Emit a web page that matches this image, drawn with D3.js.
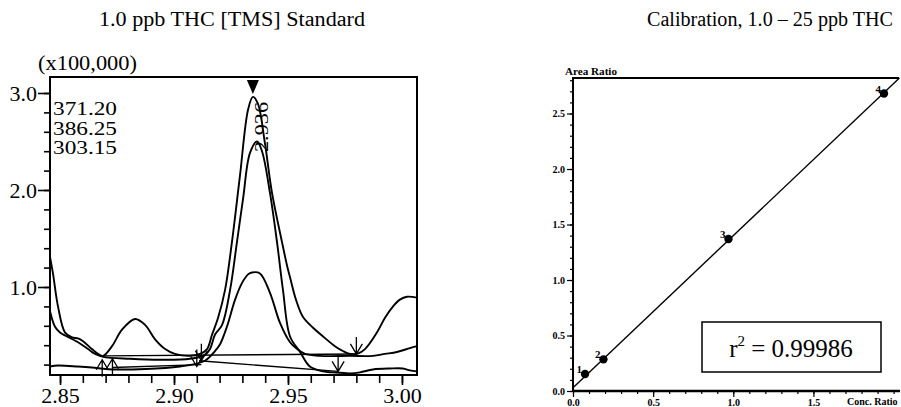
<!DOCTYPE html>
<html>
<head>
<meta charset="utf-8">
<script src="https://cdn.jsdelivr.net/npm/d3@7"></script>
<style>
  body { margin: 0; background: #fff; }
  svg { display: block; font-family: "Liberation Serif", "Times New Roman", serif; }
</style>
</head>
<body>
<div class="canvas"></div>
<script>
// ---- chromatogram data (retention time min, intensity x100,000) ----
const ionLabels = ['371.20', '386.25', '303.15'];

const ion371 = [
  [2.8456, 1.31], [2.8469, 1.14], [2.8491, 0.80], [2.8522, 0.53], [2.8553, 0.48], [2.8579, 0.47],
  [2.8601, 0.44], [2.8640, 0.36], [2.8667, 0.31], [2.8689, 0.29], [2.8728, 0.39], [2.8772, 0.56],
  [2.8829, 0.67], [2.8873, 0.61], [2.8917, 0.46], [2.8961, 0.36], [2.9004, 0.31], [2.9070, 0.29],
  [2.9114, 0.31], [2.9145, 0.36], [2.9167, 0.51], [2.9193, 0.68], [2.9224, 0.97], [2.9254, 1.46],
  [2.9289, 2.14], [2.9325, 2.83], [2.9346, 2.96], [2.9368, 2.89], [2.9399, 2.48], [2.9430, 1.97],
  [2.9474, 1.46], [2.9496, 1.22], [2.9509, 1.10], [2.9535, 0.87], [2.9566, 0.69], [2.9610, 0.58],
  [2.9654, 0.49], [2.9706, 0.39], [2.9741, 0.34], [2.9772, 0.31], [2.9803, 0.31], [2.9838, 0.36],
  [2.9890, 0.53], [2.9925, 0.68], [2.9961, 0.80], [2.9991, 0.87], [3.0022, 0.90], [3.0066, 0.89]
];

const ion386 = [
  [2.8456, 0.75], [2.8478, 0.59], [2.8500, 0.53], [2.8522, 0.50], [2.8579, 0.43], [2.8623, 0.36],
  [2.8654, 0.31], [2.8689, 0.28], [2.8807, 0.26], [2.8939, 0.25], [2.9070, 0.26], [2.9136, 0.30],
  [2.9158, 0.36], [2.9180, 0.51], [2.9211, 0.61], [2.9246, 0.97], [2.9276, 1.46], [2.9303, 1.91],
  [2.9333, 2.38], [2.9364, 2.50], [2.9386, 2.40], [2.9421, 1.97], [2.9452, 1.46], [2.9478, 0.97],
  [2.9509, 0.49], [2.9553, 0.33], [2.9596, 0.18], [2.9654, 0.13], [2.9697, 0.12], [2.9772, 0.11],
  [2.9816, 0.12], [2.9873, 0.15], [2.9947, 0.16], [3.0004, 0.16], [3.0035, 0.14], [3.0066, 0.13]
];

const ion303 = [
  [2.8456, 0.18], [2.8491, 0.19], [2.8579, 0.18], [2.8640, 0.17], [2.8728, 0.15], [2.9026, 0.18],
  [2.9136, 0.24], [2.9180, 0.34], [2.9202, 0.41], [2.9232, 0.59], [2.9268, 0.87], [2.9298, 1.04],
  [2.9325, 1.13], [2.9342, 1.15], [2.9377, 1.14], [2.9421, 0.94], [2.9465, 0.63], [2.9509, 0.43],
  [2.9540, 0.36], [2.9575, 0.31], [2.9641, 0.29], [2.9772, 0.29], [2.9873, 0.29], [2.9925, 0.31],
  [2.9978, 0.33], [3.0035, 0.37], [3.0066, 0.39]
];

// integration baselines and peak start/end arrows
const baselines = [
  [[2.8689, 0.29], [2.9803, 0.31]],
  [[2.9110, 0.24], [2.9720, 0.13]],
  [[2.8730, 0.17], [2.9120, 0.20]]
];
// [time, tip value, direction]
const arrows = [
  [2.8685, 0.25, 'up'], [2.8730, 0.26, 'up'],
  [2.9100, 0.18, 'down'], [2.9120, 0.24, 'down'],
  [2.9720, 0.13, 'down'], [2.9800, 0.31, 'down']
];
const peakTime = '2.936';
const apex = [2.9346, 2.96];

const yMajorL = [1.0, 2.0, 3.0];
const yMinorL = d3.range(2, 31, 2).map(d => d / 10);
const xMajorL = [2.85, 2.90, 2.95, 3.00];
const xMinorL = d3.range(285, 301).map(d => d / 100);

// ---- calibration data ----
const calLabels = ['1', '2', '3', '4'];
const concRatio = [0.075, 0.19, 0.97, 1.94];
const areaRatio = [0.153, 0.285, 1.37, 2.68];
const fitSlope = 1.37;
const fitIntercept = 0.03;
const r2 = '0.99986';

const yMajorR = [0.0, 0.5, 1.0, 1.5, 2.0, 2.5];
const yMinorR = d3.range(0, 29).map(d => d / 10);
const xMajorR = [0.0, 0.5, 1.0, 1.5];
const xMinorR = d3.range(0, 21).map(d => d / 10);

const svg = d3.select('.canvas')
  .append('svg')
  .attr('width', 901)
  .attr('height', 407);

svg.append('rect').attr('width', 901).attr('height', 407).attr('fill', '#fff');

// titles
svg.append('text')
  .attr('x', 99).attr('y', 26)
  .attr('textLength', 266)
  .attr('lengthAdjust', 'spacingAndGlyphs')
  .style('font-size', '20px')
  .text('1.0 ppb THC [TMS] Standard');

svg.append('text')
  .attr('x', 647).attr('y', 26)
  .attr('textLength', 246)
  .attr('lengthAdjust', 'spacingAndGlyphs')
  .style('font-size', '20px')
  .text('Calibration, 1.0 \u2013 25 ppb THC');

// ================= left: chromatogram =================
const xL = d3.scaleLinear().domain([2.8456, 3.0066]).range([50, 417]);
const yL = d3.scaleLinear().domain([0, 3]).range([384, 93]);

const left = svg.append('g');
const bigFont = g => g.attr('font-family', '"Liberation Serif", serif')
  .selectAll('text')
  .attr('font-size', 22)
  .style('font-family', '"Liberation Serif", serif');

// y axis ticks
left.append('g')
  .attr('transform', 'translate(50,0)')
  .call(d3.axisLeft(yL).tickValues(yMinorL).tickSize(6).tickFormat(''))
  .call(g => g.select('.domain').remove());
left.append('g')
  .attr('transform', 'translate(50,0)')
  .call(d3.axisLeft(yL).tickValues(yMajorL).tickSize(12).tickPadding(1).tickFormat(d3.format('.1f')))
  .call(g => g.select('.domain').remove())
  .call(bigFont);

// x axis ticks
left.append('g')
  .attr('transform', 'translate(0,375)')
  .call(d3.axisBottom(xL).tickValues(xMinorL).tickSize(8).tickFormat(''))
  .call(g => g.select('.domain').remove());
left.append('g')
  .attr('transform', 'translate(0,375)')
  .call(d3.axisBottom(xL).tickValues(xMajorL).tickSize(10).tickPadding(2).tickFormat(d3.format('.2f')))
  .call(g => g.select('.domain').remove())
  .call(bigFont);

left.selectAll('.tick line').attr('stroke-width', 1.6);

// frame
left.append('rect')
  .attr('x', 50).attr('y', 77)
  .attr('width', 367).attr('height', 298)
  .attr('fill', 'none')
  .attr('stroke', '#000')
  .attr('stroke-width', 2);

left.append('text')
  .attr('x', 38).attr('y', 70)
  .attr('textLength', 99)
  .attr('lengthAdjust', 'spacingAndGlyphs')
  .style('font-size', '21px')
  .text('(x100,000)');

// ion labels
left.selectAll('.ion')
  .data(ionLabels)
  .enter()
  .append('text')
  .attr('class', 'ion')
  .attr('x', 53)
  .attr('y', (d, i) => 115 + i * 19.5)
  .attr('textLength', 64)
  .attr('lengthAdjust', 'spacingAndGlyphs')
  .style('font-size', '19px')
  .text(d => d);

const line = d3.line()
  .x(d => xL(d[0]))
  .y(d => yL(d[1]))
  .curve(d3.curveCatmullRom.alpha(0.5));

const plot = left.append('g');

plot.selectAll('.base')
  .data(baselines)
  .enter()
  .append('path')
  .attr('d', d3.line().x(d => xL(d[0])).y(d => yL(d[1])))
  .attr('fill', 'none')
  .attr('stroke', '#000')
  .attr('stroke-width', 1.4);

plot.selectAll('.trace')
  .data([ion371, ion386, ion303])
  .enter()
  .append('path')
  .attr('d', line)
  .attr('fill', 'none')
  .attr('stroke', '#000')
  .attr('stroke-width', 1.9)
  .attr('stroke-linejoin', 'round');

// arrows at peak start / end
plot.selectAll('.arrow')
  .data(arrows)
  .enter()
  .append('path')
  .attr('d', d => {
    const x = xL(d[0]), y = yL(d[1]);
    const s = d[2] === 'down' ? -1 : 1;
    return `M${x},${y + s * 17}L${x},${y}M${x - 6},${y + s * 10}L${x},${y}L${x + 6},${y + s * 10}`;
  })
  .attr('fill', 'none')
  .attr('stroke', '#000')
  .attr('stroke-width', 1.3);

// apex marker + retention time
const ax = xL(apex[0]);
plot.append('path')
  .attr('d', `M${ax - 6},80L${ax + 6},80L${ax},94Z`)
  .attr('fill', '#000');

plot.append('text')
  .attr('transform', `translate(${ax + 15},152) rotate(-90)`)
  .attr('textLength', 50)
  .attr('lengthAdjust', 'spacingAndGlyphs')
  .style('font-size', '19px')
  .text(peakTime);

// ================= right: calibration =================
const xR = d3.scaleLinear().domain([0, 2.04]).range([573, 900]);
const yR = d3.scaleLinear().domain([0, 2.82]).range([391, 78]);

const right = svg.append('g');
const smallFont = g => g.attr('font-family', '"Liberation Serif", serif')
  .selectAll('text')
  .attr('font-size', 10)
  .style('font-weight', 'bold');

right.append('g')
  .attr('transform', 'translate(573,0)')
  .call(d3.axisLeft(yR).tickValues(yMinorR).tickSize(3).tickFormat(''))
  .call(g => g.select('.domain').remove());
right.append('g')
  .attr('transform', 'translate(573,0)')
  .call(d3.axisLeft(yR).tickValues(yMajorR).tickSize(6).tickPadding(2).tickFormat(d3.format('.1f')))
  .call(g => g.select('.domain').remove())
  .call(smallFont);

right.append('g')
  .attr('transform', 'translate(0,391)')
  .call(d3.axisBottom(xR).tickValues(xMinorR).tickSize(3).tickFormat(''))
  .call(g => g.select('.domain').remove());
right.append('g')
  .attr('transform', 'translate(0,391)')
  .call(d3.axisBottom(xR).tickValues(xMajorR).tickSize(6).tickPadding(2).tickFormat(d3.format('.1f')))
  .call(g => g.select('.domain').remove())
  .call(smallFont);

right.selectAll('.tick line').attr('stroke-width', 1.2);

right.append('path')
  .attr('d', 'M573,391L573,78L899,78')
  .attr('fill', 'none')
  .attr('stroke', '#000')
  .attr('stroke-width', 2);
right.append('line')
  .attr('x1', 573).attr('x2', 900)
  .attr('y1', 391).attr('y2', 391)
  .attr('stroke', '#000')
  .attr('stroke-width', 2.5);

right.append('text')
  .attr('x', 565).attr('y', 75)
  .attr('textLength', 52)
  .attr('lengthAdjust', 'spacingAndGlyphs')
  .style('font-size', '10px')
  .style('font-weight', 'bold')
  .text('Area Ratio');

right.append('text')
  .attr('x', 847).attr('y', 405)
  .style('font-size', '10px')
  .style('font-weight', 'bold')
  .text('Conc. Ratio');

// fitted line
const xEnd = (2.82 - fitIntercept) / fitSlope;
right.append('line')
  .attr('x1', xR(0)).attr('y1', yR(fitIntercept))
  .attr('x2', xR(xEnd)).attr('y2', yR(fitIntercept + fitSlope * xEnd))
  .attr('stroke', '#000')
  .attr('stroke-width', 1.4);

const pts = concRatio.map((c, i) => ({ x: c, y: areaRatio[i], label: calLabels[i] }));

right.selectAll('.pt')
  .data(pts)
  .enter()
  .append('circle')
  .attr('cx', d => xR(d.x))
  .attr('cy', d => yR(d.y))
  .attr('r', 4.2)
  .attr('fill', '#000');

right.selectAll('.ptlabel')
  .data(pts)
  .enter()
  .append('text')
  .attr('x', d => xR(d.x) - 3)
  .attr('y', d => yR(d.y) - 1)
  .attr('text-anchor', 'end')
  .style('font-size', '11px')
  .style('font-weight', 'bold')
  .text(d => d.label);

// r-squared box
right.append('rect')
  .attr('x', 702).attr('y', 322)
  .attr('width', 179).attr('height', 50)
  .attr('fill', '#fff')
  .attr('stroke', '#000')
  .attr('stroke-width', 1.5);

const r2text = right.append('text')
  .attr('x', 791).attr('y', 357)
  .attr('text-anchor', 'middle')
  .style('font-size', '25px');
r2text.append('tspan').text('r');
r2text.append('tspan').attr('dy', -11).style('font-size', '15px').text('2');
r2text.append('tspan').attr('dy', 11).text(' = ' + r2);
</script>
</body>
</html>
